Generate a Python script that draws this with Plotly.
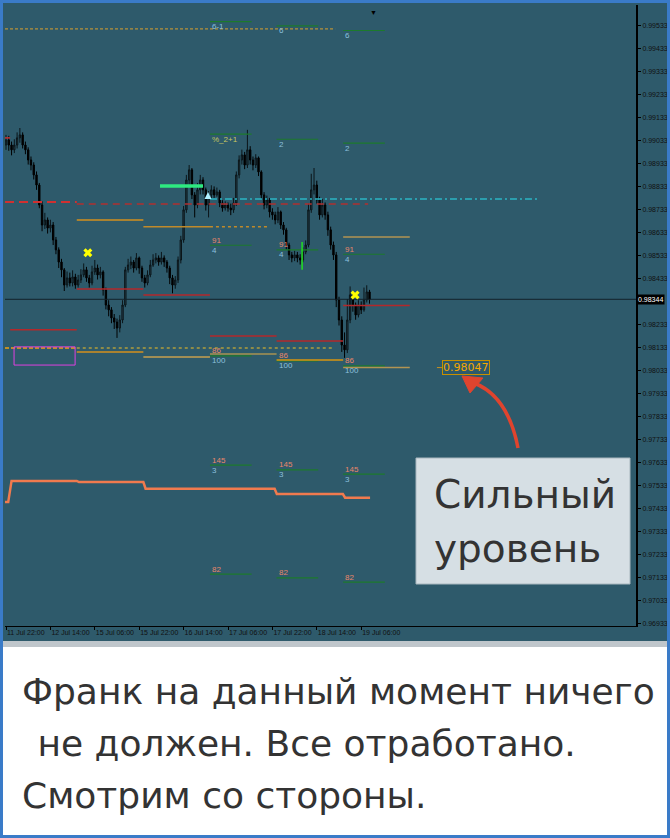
import plotly.graph_objects as go

W, H = 670, 838

# ---------------- data ----------------
time_tick_bars = [0, 16, 32, 48, 64, 80, 96, 112, 128]
time_tick_labels = ["11 Jul 22:00", "12 Jul 14:00", "15 Jul 06:00", "15 Jul 22:00",
                    "16 Jul 14:00", "17 Jul 06:00", "17 Jul 22:00", "18 Jul 14:00", "19 Jul 06:00"]
price_tick_labels = ["0.99533", "0.99433", "0.99333", "0.99233", "0.99133", "0.99033", "0.98933",
                     "0.98833", "0.98733", "0.98633", "0.98533", "0.98433", "0.98233", "0.98133",
                     "0.98033", "0.97933", "0.97833", "0.97733", "0.97633", "0.97533", "0.97433",
                     "0.97333", "0.97233", "0.97133", "0.97033", "0.96933"]

first_open = 0.99015
closes = [
    0.99037, 0.99015, 0.98994, 0.99015, 0.99046, 0.99059, 0.99015, 0.98994, 0.98950, 0.98928, 0.98885, 0.98841, 0.98754, 0.98667, 0.98689, 0.98654,
    0.98667, 0.98602, 0.98559, 0.98506, 0.98472, 0.98406, 0.98437, 0.98415, 0.98441, 0.98406, 0.98428, 0.98450, 0.98472, 0.98437, 0.98415, 0.98463,
    0.98480, 0.98450, 0.98463, 0.98385, 0.98319, 0.98298, 0.98263, 0.98245, 0.98219, 0.98254, 0.98319, 0.98472, 0.98493, 0.98506, 0.98480, 0.98524,
    0.98480, 0.98437, 0.98415, 0.98450, 0.98493, 0.98515, 0.98524, 0.98506, 0.98524, 0.98506, 0.98480, 0.98437, 0.98406, 0.98428, 0.98515, 0.98602,
    0.98733, 0.98863, 0.98907, 0.98798, 0.98754, 0.98820, 0.98863, 0.98820, 0.98754, 0.98798, 0.98820, 0.98798, 0.98811, 0.98763, 0.98741, 0.98754,
    0.98741, 0.98733, 0.98763, 0.98885, 0.98950, 0.98972, 0.98928, 0.98994, 0.98950, 0.98928, 0.98959, 0.98898, 0.98798, 0.98754, 0.98776, 0.98724,
    0.98711, 0.98689, 0.98724, 0.98667, 0.98646, 0.98580, 0.98537, 0.98524, 0.98537, 0.98524, 0.98515, 0.98550, 0.98580, 0.98733, 0.98820, 0.98841,
    0.98776, 0.98711, 0.98754, 0.98711, 0.98646, 0.98580, 0.98537, 0.98341, 0.98254, 0.98145, 0.98124, 0.98254, 0.98363, 0.98319, 0.98276, 0.98319,
    0.98298, 0.98341, 0.98376, 0.98344]
highs = [
    0.99059, 0.99055, 0.99030, 0.99040, 0.99070, 0.99089, 0.99070, 0.99030, 0.99005, 0.98965, 0.98940, 0.98900, 0.98850, 0.98770, 0.98720, 0.98700,
    0.98690, 0.98680, 0.98615, 0.98570, 0.98520, 0.98480, 0.98465, 0.98460, 0.98470, 0.98455, 0.98450, 0.98475, 0.98500, 0.98485, 0.98450, 0.98490,
    0.98515, 0.98495, 0.98485, 0.98470, 0.98395, 0.98340, 0.98310, 0.98280, 0.98260, 0.98275, 0.98340, 0.98485, 0.98520, 0.98530, 0.98515, 0.98545,
    0.98530, 0.98490, 0.98450, 0.98470, 0.98515, 0.98540, 0.98545, 0.98535, 0.98550, 0.98535, 0.98515, 0.98490, 0.98450, 0.98445, 0.98530, 0.98620,
    0.98750, 0.98885, 0.98928, 0.98915, 0.98810, 0.98850, 0.98885, 0.98875, 0.98830, 0.98815, 0.98840, 0.98835, 0.98830, 0.98820, 0.98775, 0.98770,
    0.98765, 0.98760, 0.98785, 0.98900, 0.98970, 0.98995, 0.98985, 0.99081, 0.99010, 0.98965, 0.98975, 0.98965, 0.98905, 0.98810, 0.98795, 0.98785,
    0.98740, 0.98725, 0.98745, 0.98730, 0.98680, 0.98655, 0.98590, 0.98550, 0.98555, 0.98550, 0.98540, 0.98570, 0.98600, 0.98760, 0.98890, 0.98915,
    0.98860, 0.98790, 0.98780, 0.98765, 0.98725, 0.98660, 0.98595, 0.98550, 0.98355, 0.98270, 0.98200, 0.98345, 0.98400, 0.98375, 0.98330, 0.98340,
    0.98335, 0.98395, 0.98405, 0.98385]
lows = [
    0.98994, 0.98990, 0.98970, 0.98980, 0.99000, 0.99025, 0.99000, 0.98975, 0.98930, 0.98905, 0.98865, 0.98820, 0.98740, 0.98640, 0.98650, 0.98630,
    0.98635, 0.98580, 0.98540, 0.98480, 0.98440, 0.98380, 0.98395, 0.98400, 0.98400, 0.98390, 0.98395, 0.98415, 0.98440, 0.98420, 0.98395, 0.98405,
    0.98450, 0.98430, 0.98435, 0.98360, 0.98300, 0.98270, 0.98240, 0.98215, 0.98176, 0.98200, 0.98240, 0.98310, 0.98460, 0.98475, 0.98460, 0.98470,
    0.98455, 0.98420, 0.98395, 0.98405, 0.98440, 0.98485, 0.98500, 0.98490, 0.98495, 0.98485, 0.98460, 0.98410, 0.98370, 0.98390, 0.98415, 0.98500,
    0.98590, 0.98720, 0.98840, 0.98780, 0.98700, 0.98740, 0.98800, 0.98800, 0.98730, 0.98700, 0.98780, 0.98785, 0.98790, 0.98745, 0.98725, 0.98730,
    0.98725, 0.98710, 0.98720, 0.98750, 0.98870, 0.98930, 0.98910, 0.98915, 0.98930, 0.98905, 0.98915, 0.98880, 0.98780, 0.98735, 0.98740, 0.98700,
    0.98690, 0.98670, 0.98675, 0.98650, 0.98625, 0.98560, 0.98515, 0.98505, 0.98510, 0.98505, 0.98495, 0.98505, 0.98540, 0.98570, 0.98720, 0.98800,
    0.98760, 0.98690, 0.98700, 0.98690, 0.98620, 0.98560, 0.98515, 0.98310, 0.98230, 0.98115, 0.98089, 0.98110, 0.98240, 0.98290, 0.98255, 0.98265,
    0.98280, 0.98290, 0.98330, 0.98325]
current_price = 0.98344

# day boundaries (bar index) and daily levels
day_starts = [1.5, 25.5, 49.5, 73.5, 97.5, 121.5, 145.5]
red_day_levels = [0.98211, 0.98389, 0.98363, 0.98184, 0.98163, 0.98317]
low_orange_levels = [None, 0.98115, 0.98093, 0.98106, 0.98080, 0.98047]
high_orange_levels = [None, 0.98689, 0.98659, None, None, 0.98615]
strong_level = 0.98047

# rows of labelled levels on the last three days
row6_levels = [0.99552, 0.99533, 0.99513]
row6_labels = ["6-1", "6", "6"]
row2_levels = [0.99062, 0.99040, 0.99023]
row2_labels = ["%_2+1", "2", "2"]
row91_levels = [0.98579, 0.98559, 0.98540]
row86_levels = [0.98098, 0.98076, 0.98054]
row145_levels = [0.97623, 0.97602, 0.97584]
row82_levels = [0.97149, 0.97132, 0.97114]

# other lines
top_dotted_level = 0.99520
red_dash_levels = [0.98767, 0.98759]
cyan_level = 0.98780
green_thick_level = 0.98837
olive_dotted_level = 0.98132
box_low, box_high = 0.98058, 0.98137
vert_green_low, vert_green_high = 0.98472, 0.98593
x_marks_bar = [29.5, 125.8]
x_marks_price = [0.98546, 0.98363]
arrow_mark = (72.8, 0.98811)
step_bars = [-0.4, 0.8, 2.0, 25.5, 26.3, 49.5, 50.3, 96.8, 97.6, 121.4, 122.2, 131.2]
step_values = [0.97462, 0.97462, 0.97554, 0.97554, 0.97549, 0.97549, 0.97520, 0.97520,
               0.97497, 0.97497, 0.97481, 0.97481]

# ---------------- figure ----------------
BG = "#2E5A6B"
GREEN = "#1C7A2C"
SALMON = "#E8866A"
LBLUE = "#8CC0DE"
XMIN, XMAX = -0.36, 227.03
fig = go.Figure()


def seg(x0, x1, p, color, width=1.0, dash="solid"):
    fig.add_trace(go.Scatter(x=[x0, x1], y=[p, p], mode="lines",
                             line=dict(color=color, width=width, dash=dash),
                             hoverinfo="skip", showlegend=False))


# coral stepped indicator
fig.add_trace(go.Scatter(x=step_bars, y=step_values, mode="lines",
                         line=dict(color="#F07A4E", width=2.5), hoverinfo="skip"))

# top dotted
seg(XMIN, 118.6, top_dotted_level, "#D9A030", 1, "3px,2px")
seg(XMIN, 1.5, 0.99046, "#C03030", 1.5)
# red dashed
seg(XMIN, 25.5, red_dash_levels[0], "#D03030", 2, "9px,5px")
seg(25.5, 130.5, red_dash_levels[1], "#B03030", 1.5, "7px,5px")
# cyan dash-dot
seg(73.5, 192.4, cyan_level, "#2BB5C5", 1.5, "7px,3px,2px,3px")
# bright green thick
seg(55.5, 71.0, green_thick_level, "#2EEA80", 3.5)
# daily red levels
for i, p in enumerate(red_day_levels):
    seg(day_starts[i], day_starts[i + 1], p, "#B3282B", 1.5)
# olive dotted + orange dashes + magenta box
seg(25.5, 118.0, olive_dotted_level, "#8E8C48", 2, "dot")
seg(XMIN, 24.9, olive_dotted_level, "#F0A010", 1.5, "4px,2px")
fig.add_trace(go.Scatter(x=[2.9, 24.9, 24.9, 2.9, 2.9], y=[box_high, box_high, box_low, box_low, box_high],
                         mode="lines", line=dict(color="#E040E0", width=1), hoverinfo="skip"))

# green label rows
row_sets = [row6_levels, row2_levels, row91_levels, row86_levels, row145_levels, row82_levels]
for levels in row_sets:
    for k, p in enumerate(levels):
        seg(day_starts[3 + k], day_starts[3 + k] + 15, p, GREEN, 1.2)

# orange daily levels
low_cols = [None, "#D4901C", "#C9A04E", "#A89350", "#D8960F", "#B39452"]
for i, p in enumerate(low_orange_levels):
    if p is not None:
        seg(day_starts[i], day_starts[i + 1], p, low_cols[i], 1.5)
high_cols = [None, "#D4901C", "#C08A2A", None, None, "#B39452"]
for i, p in enumerate(high_orange_levels):
    if p is not None:
        seg(day_starts[i], day_starts[i + 1], p, high_cols[i], 1.5)
seg(day_starts[3], 94.4, high_orange_levels[2], "#C08A2A", 1.5, "dot")
seg(155.3, 157.1, strong_level, "#C89020", 1)

# candles
bars = list(range(len(closes)))
opens = [first_open] + closes[:-1]
fig.add_trace(go.Candlestick(x=bars, open=opens, high=highs, low=lows, close=closes,
                             increasing=dict(line=dict(color="#0b1519", width=1), fillcolor="#26434F"),
                             decreasing=dict(line=dict(color="#000000", width=1), fillcolor="#000000"),
                             whiskerwidth=0, hoverinfo="skip", showlegend=False))

# vertical green
fig.add_trace(go.Scatter(x=[106.7, 106.7], y=[vert_green_low, vert_green_high], mode="lines",
                         line=dict(color="#22E022", width=1.5), hoverinfo="skip"))
# current price line
seg(XMIN, XMAX, current_price, "#12222A", 1)
# markers
fig.add_trace(go.Scatter(x=x_marks_bar, y=x_marks_price, mode="markers",
                         marker=dict(symbol="x", size=8, color="#FFFF00", line=dict(width=0)),
                         hoverinfo="skip"))
fig.add_trace(go.Scatter(x=[arrow_mark[0]], y=[arrow_mark[1]], mode="markers",
                         marker=dict(symbol="arrow-up", size=7, color="#B0F0FF"), hoverinfo="skip"))

annotations = []


def lbl(x, y, text, color, yshift):
    annotations.append(dict(x=x, y=y, xref="x", yref="y", text=text, showarrow=False,
                            xanchor="left", yanchor="middle", yshift=yshift,
                            font=dict(family="Liberation Sans", size=8, color=color)))


for k in range(3):
    x = day_starts[3 + k]
    lbl(x, row6_levels[k], row6_labels[k], LBLUE, -5)
    lbl(x, row2_levels[k], row2_labels[k], "#C8C860" if k == 0 else LBLUE, -5)
    lbl(x, row91_levels[k], "91", SALMON, 5)
    lbl(x, row91_levels[k], "4", LBLUE, -5)
    lbl(x, row86_levels[k], "86", SALMON, 5)
    lbl(x, row86_levels[k], "100", LBLUE, -5)
    lbl(x, row145_levels[k], "145", SALMON, 5)
    lbl(x, row145_levels[k], "3", LBLUE, -5)
    lbl(x, row82_levels[k], "82", SALMON, 5)

# strong level label
annotations.append(dict(x=157.1, y=strong_level, xref="x", yref="y", text=f"{strong_level:.5f}",
                        showarrow=False, xanchor="left", yanchor="middle",
                        bordercolor="#C89000", borderwidth=1, borderpad=0,
                        font=dict(family="DejaVu Sans", size=11, color="#F5A800")))
# current price tag
annotations.append(dict(x=636 / W, y=current_price, xref="paper", yref="y", text=f"{current_price:.5f}",
                        showarrow=False, xanchor="left", yanchor="middle", bgcolor="#000000",
                        borderpad=1, font=dict(family="Liberation Sans", size=7, color="#FFFFFF")))
# top marker
annotations.append(dict(x=132.6, y=1 - 6 / H, xref="x", yref="paper", text="▼", showarrow=False,
                        font=dict(size=7, color="#000000")))


def P(x, y):
    return x / W, 1 - y / H


# callout text
cx, cy = P(432, 494)
annotations.append(dict(x=cx, y=cy, xref="paper", yref="paper", text="Сильный", showarrow=False,
                        xanchor="left", yanchor="middle",
                        font=dict(family="DejaVu Sans", size=39, color="#333333")))
cx, cy = P(432, 548)
annotations.append(dict(x=cx, y=cy, xref="paper", yref="paper", text="уровень", showarrow=False,
                        xanchor="left", yanchor="middle",
                        font=dict(family="DejaVu Sans", size=39, color="#333333")))
# bottom text
for (tx, ty, t) in [(20, 691, "Франк на данный момент ничего"),
                    (24, 743, " не должен. Все отработано."),
                    (20, 795, "Смотрим со стороны.")]:
    ax, ay = P(tx, ty)
    annotations.append(dict(x=ax, y=ay, xref="paper", yref="paper", text=t, showarrow=False,
                            xanchor="left", yanchor="middle",
                            font=dict(family="DejaVu Sans", size=36, color="#333333")))


def rect(x0, y0, x1, y1, **kw):
    a, b = P(x0, y1)
    c, d = P(x1, y0)
    return dict(type="rect", xref="paper", yref="paper", x0=a, y0=b, x1=c, y1=d, **kw)


shapes = [
    rect(3, 3, 667, 641, fillcolor=BG, line=dict(width=0), layer="below"),
    rect(3, 641, 667, 647, fillcolor="#BFC6CB", line=dict(width=0), layer="below"),
    rect(0, 228, 3, 248, fillcolor="#E040E0", line=dict(width=0), layer="above"),
    rect(416, 458, 630, 584, fillcolor="#D6DFE4", line=dict(color="#A9B7BF", width=1), layer="above"),
    rect(1.5, 1.5, 668.5, 836.5, fillcolor="rgba(0,0,0,0)", line=dict(color="#3A7BC8", width=3), layer="above"),
]
# curved red arrow
p0, p1, p2 = P(518, 448), P(508, 396), P(474, 383)
shapes.append(dict(type="path", xref="paper", yref="paper",
                   path=f"M {p0[0]},{p0[1]} Q {p1[0]},{p1[1]} {p2[0]},{p2[1]}",
                   line=dict(color="#E0442E", width=3.5)))
t0, t1, t2 = P(462, 376), P(483, 378), P(470, 393)
shapes.append(dict(type="path", xref="paper", yref="paper",
                   path=f"M {t0[0]},{t0[1]} L {t1[0]},{t1[1]} L {t2[0]},{t2[1]} Z",
                   fillcolor="#E0442E", line=dict(color="#E0442E", width=1)))

fig.update_layout(
    width=W, height=H, margin=dict(l=0, r=0, t=0, b=0),
    paper_bgcolor="#FFFFFF", plot_bgcolor=BG, showlegend=False,
    annotations=annotations, shapes=shapes,
    xaxis=dict(domain=[5 / W, 636 / W], range=[XMIN, XMAX], tickvals=time_tick_bars,
               ticktext=time_tick_labels, ticks="outside", ticklen=3, tickcolor="#000",
               ticklabelposition="outside right", tickangle=0,
               showline=True, linecolor="#000", linewidth=1, showgrid=False, zeroline=False,
               rangeslider=dict(visible=False),
               tickfont=dict(family="Liberation Sans", size=7, color="#111111")),
    yaxis=dict(domain=[1 - 626 / H, 1 - 5 / H], range=[0.96923, 0.99624], side="right",
               tickvals=[float(t) for t in price_tick_labels], ticktext=price_tick_labels,
               ticks="outside", ticklen=3, tickcolor="#000", showline=True, linecolor="#000",
               linewidth=2, showgrid=False, zeroline=False,
               tickfont=dict(family="Liberation Sans", size=7, color="#111111")),
)

fig.write_html("out.html", config={"displayModeBar": False, "staticPlot": True},
               post_script="document.body.style.margin='0';document.body.style.overflow='hidden';")
